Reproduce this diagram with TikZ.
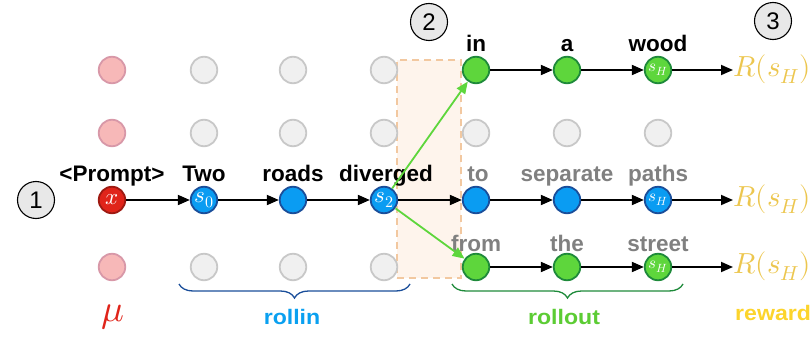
\documentclass[tikz,border=0pt]{standalone}
\usepackage{fontspec}
\usepackage{unicode-math}
\setmainfont{Liberation Sans}
\setmathfont{Latin Modern Math}
\newfontfamily\widefont[FakeStretch=1.1]{Liberation Sans}
\usetikzlibrary{arrows.meta,decorations.pathreplacing}
\definecolor{redfill}{HTML}{E0241A}
\definecolor{redline}{HTML}{9E1A12}
\definecolor{bluefill}{HTML}{0A9CF2}
\definecolor{blueline}{HTML}{1A4E9A}
\definecolor{greenfill}{HTML}{5ED63C}
\definecolor{greenline}{HTML}{1E8A3A}
\definecolor{grayfill}{HTML}{F0F0F0}
\definecolor{grayline}{HTML}{C8C8C8}
\definecolor{pinkfill}{HTML}{F7B8B8}
\definecolor{pinkline}{HTML}{D898A8}
\definecolor{rewardc}{HTML}{ECC64E}
\definecolor{rewardt}{HTML}{FCD42C}
\definecolor{rollinc}{HTML}{0AA0F0}
\definecolor{rolloutc}{HTML}{5CCC34}
\definecolor{txtgray}{HTML}{808080}
\definecolor{rectfill}{HTML}{FEF4EC}
\definecolor{rectline}{HTML}{F2C8A0}
\definecolor{arrowgreen}{HTML}{5ED63C}
\begin{document}
\begin{tikzpicture}[x=1pt,y=-1pt,
  tok/.style={circle,minimum size=26.5pt,inner sep=0pt,line width=1.8pt,text=white,font=\fontsize{23}{23}\selectfont},
  gnode/.style={tok,fill=grayfill,draw=grayline},
  pnode/.style={tok,fill=pinkfill,draw=pinkline},
  rnode/.style={tok,fill=redfill,draw=redline},
  bnode/.style={tok,fill=bluefill,draw=blueline},
  grnode/.style={tok,fill=greenfill,draw=greenline},
  hnode/.style={font=\fontsize{17}{17}\selectfont},
  num/.style={circle,minimum size=37pt,inner sep=0pt,draw=black,line width=1.1pt,fill=black!9,font=\fontsize{24}{24}\selectfont},
  lab/.style={font=\fontsize{22.5}{22.5}\selectfont\bfseries,anchor=base,inner sep=0pt},
  arr/.style={-{Triangle[length=12pt,width=10pt]},line width=1.8pt},
  garr/.style={-{Triangle[length=12pt,width=10pt]},line width=1.8pt,draw=arrowgreen},
  rew/.style={text=rewardc,font=\fontsize{29}{29}\selectfont,anchor=base west,inner sep=0pt},
  brc/.style={decorate,decoration={brace,mirror,amplitude=14pt},line width=1.3pt},
  blab/.style={font=\widefont\fontsize{21}{21}\selectfont\bfseries,anchor=base,inner sep=0pt}
]
\useasboundingbox (0,0) rectangle (810,337);
% dashed rectangle
\node[draw=rectline,fill=rectfill,dash pattern=on 7pt off 5pt,line width=1.4pt,minimum width=64pt,minimum height=218pt,inner sep=0pt] (box) at (429,169) {};
% numbers
\node[num] (n1) at (36,200) {1};
\node[num] (n2) at (429,22) {2};
\node[num] (n3) at (773,21) {3};
% row 70
\node[pnode] (p1) at (112,70) {};
\node[gnode] (g11) at (204,70) {};
\node[gnode] (g12) at (293,70) {};
\node[gnode] (g13) at (384,70) {};
\node[grnode] (in) at (476,70) {};
\node[grnode] (a) at (567,70) {};
\node[grnode,hnode] (wood) at (658,70) {$s_H$};
% row 133
\node[pnode] (p2) at (112,133) {};
\node[gnode] (g21) at (204,133) {};
\node[gnode] (g22) at (293,133) {};
\node[gnode] (g23) at (384,133) {};
\node[gnode] (g24) at (476,133) {};
\node[gnode] (g25) at (567,133) {};
\node[gnode] (g26) at (658,133) {};
% row 200
\node[rnode] (x) at (112,200) {$x$};
\node[bnode] (s0) at (204,200) {$s_0$};
\node[bnode] (roads) at (293,200) {};
\node[bnode] (s2) at (384,200) {$s_2$};
\node[bnode] (to) at (476,200) {};
\node[bnode] (sep) at (567,200) {};
\node[bnode,hnode] (paths) at (658,200) {$s_H$};
% row 267
\node[pnode] (p3) at (112,267) {};
\node[gnode] (g31) at (204,267) {};
\node[gnode] (g32) at (293,267) {};
\node[gnode] (g33) at (384,267) {};
\node[grnode] (from) at (476,267) {};
\node[grnode] (the) at (567,267) {};
\node[grnode,hnode] (street) at (658,267) {$s_H$};
% rewards
\node[rew] (r1) at (733,76) {$R(s_H)$};
\node[rew] (r2) at (733,206) {$R(s_H)$};
\node[rew] (r3) at (733,273) {$R(s_H)$};
% word labels
\node[lab] (lp) at (112,181) {<Prompt>};
\node[lab] (l0) at (204,181) {Two};
\node[lab] (l1) at (293,181) {roads};
\node[lab] (l2) at (386,181) {diverged};
\node[lab,text=txtgray] (l3) at (478,181) {to};
\node[lab,text=txtgray] (l4) at (567,181) {separate};
\node[lab,text=txtgray] (l5) at (658,181) {paths};
\node[lab] (l6) at (476,52) {in};
\node[lab] (l7) at (567,52) {a};
\node[lab] (l8) at (658,52) {wood};
\node[lab,text=txtgray] (l9) at (476,251) {from};
\node[lab,text=txtgray] (l10) at (567,251) {the};
\node[lab,text=txtgray] (l11) at (658,251) {street};
% arrows
\draw[arr] (x) -- (s0);
\draw[arr] (s0) -- (roads);
\draw[arr] (roads) -- (s2);
\draw[arr] (s2) -- (to);
\draw[arr] (to) -- (sep);
\draw[arr] (sep) -- (paths);
\draw[arr] (paths) -- (paths -| r2.west);
\draw[arr] (in) -- (a);
\draw[arr] (a) -- (wood);
\draw[arr] (wood) -- (wood -| r1.west);
\draw[arr] (from) -- (the);
\draw[arr] (the) -- (street);
\draw[arr] (street) -- (street -| r3.west);
\draw[garr] (s2) -- (in);
\draw[garr] (s2) -- (from);
% braces
\coordinate (b1a) at (179,284);
\coordinate (b1b) at (410,284);
\coordinate (b2a) at (452,284);
\coordinate (b2b) at (683,284);
\draw[brc,draw=blueline] (b1a) -- (b1b);
\draw[brc,draw=greenline] (b2a) -- (b2b);
\node[blab,text=rollinc] (rollin) at (292,324) {rollin};
\node[blab,text=rolloutc] (rollout) at (564,324) {rollout};
\node[blab,text=rewardt,anchor=base west] (reward) at (735,320) {reward};
\node[text=redfill,font=\fontsize{38}{38}\selectfont,anchor=base,inner sep=0pt] (mu) at (113,321) {$\mu$};
\end{tikzpicture}
\end{document}
